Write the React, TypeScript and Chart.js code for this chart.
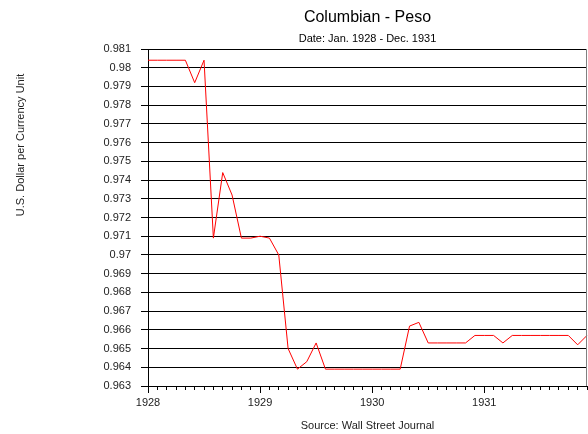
import React, { useEffect, useRef } from "react";
import { Chart, registerables } from "chart.js";

Chart.register(...registerables);

const years = ["1928", "1929", "1930", "1931"];
const monthNames = ["Jan", "Feb", "Mar", "Apr", "May", "Jun", "Jul", "Aug", "Sep", "Oct", "Nov", "Dec"];
const months = years.flatMap((y) => monthNames.map((m) => `${m} ${y}`));

const pesoValues = [
  0.9804, 0.9804, 0.9804, 0.9804, 0.9804, 0.9792, 0.9804, 0.9709, 0.9744, 0.9732, 0.9709, 0.9709,
  0.971, 0.9709, 0.97, 0.965, 0.9639, 0.9643, 0.9653, 0.9639, 0.9639, 0.9639, 0.9639, 0.9639,
  0.9639, 0.9639, 0.9639, 0.9639, 0.9662, 0.9664, 0.9653, 0.9653, 0.9653, 0.9653, 0.9653, 0.9657,
  0.9657, 0.9657, 0.9653, 0.9657, 0.9657, 0.9657, 0.9657, 0.9657, 0.9657, 0.9657, 0.9652, 0.9657,
];

const yMin = 0.963;
const yMax = 0.981;
const yStep = 0.001;

const titleText = "Columbian - Peso";
const subtitleText = "Date: Jan. 1928 - Dec. 1931";
const yTitleText = "U.S. Dollar per Currency Unit";
const sourceText = "Source: Wall Street Journal";

const FONT = "'Liberation Sans', Arial, sans-serif";

const decorPlugin = {
  id: "decor",
  afterDraw(chart: any) {
    const ctx = chart.ctx;
    const area = chart.chartArea;
    const cx = (area.left + area.right) / 2;
    ctx.save();
    ctx.fillStyle = "#000";
    ctx.textAlign = "center";
    ctx.textBaseline = "alphabetic";
    ctx.font = `16px ${FONT}`;
    ctx.fillText(titleText, cx, 22);
    ctx.font = `11px ${FONT}`;
    ctx.fillText(subtitleText, cx, 42);
    ctx.fillStyle = "#222";
    ctx.fillText(sourceText, cx, 429);
    ctx.save();
    ctx.translate(21, 145);
    ctx.rotate(-Math.PI / 2);
    ctx.textBaseline = "middle";
    ctx.fillText(yTitleText, 0, 0);
    ctx.restore();

    // right border
    ctx.strokeStyle = "#808080";
    ctx.lineWidth = 1;
    ctx.beginPath();
    const rx = Math.round(area.right) - 0.5;
    ctx.moveTo(rx, area.top);
    ctx.lineTo(rx, area.bottom);
    ctx.stroke();

    // major x ticks
    const xs = chart.scales.x;
    ctx.strokeStyle = "#000";
    ctx.beginPath();
    months.forEach((_, i) => {
      if (i % 12 === 0) {
        const px = Math.round(xs.getPixelForValue(i)) + 0.5;
        ctx.moveTo(px, area.bottom);
        ctx.lineTo(px, area.bottom + 7);
      }
    });
    ctx.stroke();
    ctx.restore();
  },
};

export default function App() {
  const canvasRef = useRef<HTMLCanvasElement | null>(null);

  useEffect(() => {
    const canvas = canvasRef.current;
    if (!canvas) return;
    const chart = new Chart(canvas, {
      type: "line",
      data: {
        labels: months,
        datasets: [
          {
            data: pesoValues,
            borderColor: "#ff0000",
            borderWidth: 1,
            pointRadius: 0,
            tension: 0,
            fill: false,
          },
        ],
      },
      options: {
        responsive: false,
        animation: false,
        events: [],
        layout: { padding: { top: 49, right: 1, bottom: 0, left: 0 } },
        plugins: {
          legend: { display: false },
          tooltip: { enabled: false },
          title: { display: false },
        },
        scales: {
          x: {
            type: "category",
            offset: false,
            afterFit: (s: any) => {
              s.height = 48;
              s.paddingLeft = 0;
              s.paddingRight = 0;
            },
            grid: {
              drawOnChartArea: false,
              drawTicks: true,
              tickLength: 4,
              color: "#000",
              lineWidth: 1,
            },
            border: { display: true, color: "#000", width: 1 },
            ticks: {
              autoSkip: false,
              maxRotation: 0,
              minRotation: 0,
              padding: 6,
              color: "#222",
              font: { family: FONT, size: 11 },
              callback: (_v: any, i: number) => (i % 12 === 0 ? months[i].split(" ")[1] : ""),
            },
          },
          y: {
            min: yMin,
            max: yMax,
            afterFit: (s: any) => {
              s.width = 148;
            },
            grid: {
              color: "#000",
              lineWidth: 1,
              tickLength: 7,
              drawTicks: true,
            },
            border: { display: true, color: "#000", width: 1 },
            ticks: {
              stepSize: yStep,
              padding: 10,
              color: "#222",
              font: { family: FONT, size: 11 },
              callback: (v: any) => String(Number(Number(v).toFixed(3))),
            },
          },
        },
      },
      plugins: [decorPlugin],
    });
    return () => chart.destroy();
  }, []);

  return (
    <div style={{ position: "fixed", left: 0, top: 0, width: 588, height: 434, background: "#fff" }}>
      <canvas ref={canvasRef} width={588} height={434} style={{ display: "block" }} />
    </div>
  );
}
